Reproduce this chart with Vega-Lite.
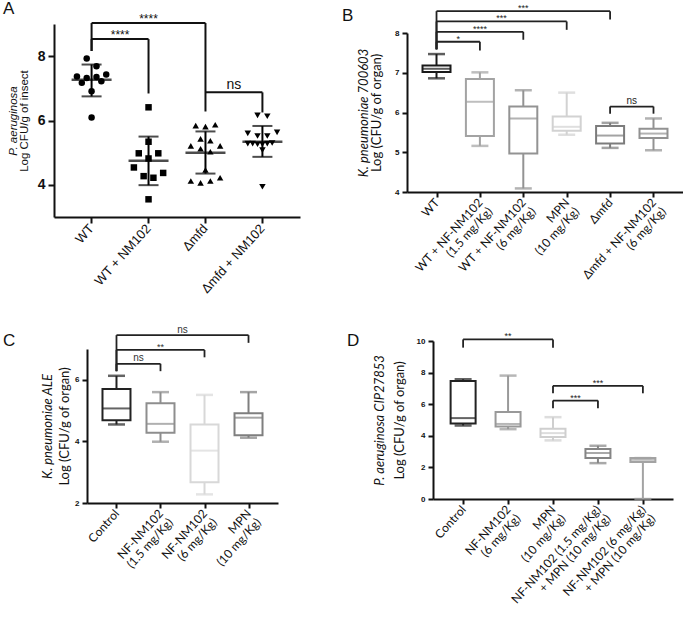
{
 "$schema": "https://vega.github.io/schema/vega-lite/v6.json",
 "background": "white",
 "padding": {"left": 3, "top": 0, "right": 0, "bottom": 0},
 "config": {
  "view": {"stroke": null},
  "axis": {"grid": false, "domainColor": "#111", "tickColor": "#111", "labelColor": "#111", "titleColor": "#111"},
  "axisY": {"labelOverlap": false, "tickCount": 20},
  "axisQuantitative": {"labelOverlap": false},
  "title": {"fontWeight": "normal", "font": "Liberation Sans", "fontSize": 17, "anchor": "start", "frame": "group", "color": "#111"}
 },
 "datasets": {
  "a_pts": [
   {"g":"WT","v":7.93,"s":-1},{"g":"WT","v":7.69,"s":1},{"g":"WT","v":7.37,"s":-3},{"g":"WT","v":7.32,"s":-1},{"g":"WT","v":7.35,"s":1},{"g":"WT","v":7.43,"s":3},{"g":"WT","v":7.17,"s":-2},{"g":"WT","v":7.22,"s":2},{"g":"WT","v":6.91,"s":0},{"g":"WT","v":6.09,"s":0},
   {"g":"WT + NM102","v":6.41,"s":0},{"g":"WT + NM102","v":5.34,"s":0},{"g":"WT + NM102","v":4.98,"s":-2},{"g":"WT + NM102","v":4.98,"s":2},{"g":"WT + NM102","v":4.82,"s":0},{"g":"WT + NM102","v":4.54,"s":-3},{"g":"WT + NM102","v":4.37,"s":3},{"g":"WT + NM102","v":4.27,"s":-1},{"g":"WT + NM102","v":4.22,"s":1},{"g":"WT + NM102","v":3.55,"s":0},
   {"g":"Δmfd","v":5.84,"s":-2},{"g":"Δmfd","v":5.81,"s":0},{"g":"Δmfd","v":5.87,"s":2},{"g":"Δmfd","v":5.43,"s":-1},{"g":"Δmfd","v":5.37,"s":1},{"g":"Δmfd","v":5.21,"s":-3},{"g":"Δmfd","v":5.21,"s":3},{"g":"Δmfd","v":5.12,"s":-1},{"g":"Δmfd","v":5.03,"s":1},{"g":"Δmfd","v":4.46,"s":0},{"g":"Δmfd","v":4.12,"s":-3},{"g":"Δmfd","v":4.06,"s":-1},{"g":"Δmfd","v":4.12,"s":1},{"g":"Δmfd","v":4.22,"s":3},
   {"g":"Δmfd + NM102","v":6.16,"s":-1},{"g":"Δmfd + NM102","v":6.13,"s":1},{"g":"Δmfd + NM102","v":5.60,"s":-3},{"g":"Δmfd + NM102","v":5.52,"s":-1},{"g":"Δmfd + NM102","v":5.52,"s":1},{"g":"Δmfd + NM102","v":5.63,"s":3},{"g":"Δmfd + NM102","v":5.28,"s":-3},{"g":"Δmfd + NM102","v":5.28,"s":-2},{"g":"Δmfd + NM102","v":5.26,"s":-1},{"g":"Δmfd + NM102","v":5.26,"s":0},{"g":"Δmfd + NM102","v":5.28,"s":1},{"g":"Δmfd + NM102","v":5.30,"s":2},{"g":"Δmfd + NM102","v":5.08,"s":0},{"g":"Δmfd + NM102","v":3.94,"s":0}
  ],
  "a_stats": [
   {"g":"WT","mean":7.27,"lo":6.75,"hi":7.74},
   {"g":"WT + NM102","mean":4.75,"lo":3.99,"hi":5.50},
   {"g":"Δmfd","mean":5.00,"lo":4.35,"hi":5.66},
   {"g":"Δmfd + NM102","mean":5.34,"lo":4.87,"hi":5.83}
  ],
  "a_br": [
   {"g1":"WT","g2":"Δmfd","y":9.03,"yl":8.16,"yr":6.28,"label":"****","mid":"WT + NM102","half":false},
   {"g1":"WT","g2":"WT + NM102","y":8.53,"yl":8.16,"yr":6.84,"label":"****","mid":"WT","half":true},
   {"g1":"Δmfd","g2":"Δmfd + NM102","y":6.875,"yl":6.875,"yr":6.25,"label":"ns","mid":"Δmfd","half":true}
  ],
  "b_box": [
   {"g":"WT","lo":6.86,"q1":7.02,"med":7.10,"q3":7.18,"hi":7.47},
   {"g":"WT + NF-NM102\n(1.5 mg/Kg)","lo":5.16,"q1":5.41,"med":6.27,"q3":6.84,"hi":7.01},
   {"g":"WT + NF-NM102\n(6 mg/Kg)","lo":4.09,"q1":4.97,"med":5.85,"q3":6.15,"hi":6.56},
   {"g":"MPN\n(10 mg/Kg)","lo":5.44,"q1":5.54,"med":5.64,"q3":5.90,"hi":6.50},
   {"g":"Δmfd","lo":5.11,"q1":5.22,"med":5.42,"q3":5.66,"hi":5.74},
   {"g":"Δmfd + NF-NM102\n(6 mg/Kg)","lo":5.05,"q1":5.36,"med":5.47,"q3":5.59,"hi":5.85}
  ],
  "b_br": [
   {"g1":"WT","g2":"WT + NF-NM102\n(1.5 mg/Kg)","y":7.78,"yl":7.59,"yr":7.56,"label":"*","mid":"WT","half":true},
   {"g1":"WT","g2":"WT + NF-NM102\n(6 mg/Kg)","y":8.03,"yl":7.59,"yr":7.83,"label":"****","mid":"WT + NF-NM102\n(1.5 mg/Kg)","half":false},
   {"g1":"WT","g2":"MPN\n(10 mg/Kg)","y":8.29,"yl":7.59,"yr":8.08,"label":"***","mid":"WT + NF-NM102\n(1.5 mg/Kg)","half":true},
   {"g1":"WT","g2":"Δmfd","y":8.55,"yl":7.59,"yr":8.34,"label":"***","mid":"WT + NF-NM102\n(6 mg/Kg)","half":false},
   {"g1":"Δmfd","g2":"Δmfd + NF-NM102\n(6 mg/Kg)","y":6.15,"yl":5.97,"yr":5.97,"label":"ns","mid":"Δmfd","half":true}
  ],
  "c_box": [
   {"g":"Control","lo":4.55,"q1":4.69,"med":5.07,"q3":5.70,"hi":6.13},
   {"g":"NF-NM102\n(1.5 mg/Kg)","lo":3.99,"q1":4.28,"med":4.57,"q3":5.24,"hi":5.60},
   {"g":"NF-NM102\n(6 mg/Kg)","lo":2.28,"q1":2.67,"med":3.70,"q3":4.55,"hi":5.51},
   {"g":"MPN\n(10 mg/Kg)","lo":4.12,"q1":4.20,"med":4.77,"q3":4.91,"hi":5.60}
  ],
  "c_br": [
   {"g1":"Control","g2":"MPN\n(10 mg/Kg)","y":7.45,"yl":6.28,"yr":7.2,"label":"ns","mid":"NF-NM102\n(1.5 mg/Kg)","half":true},
   {"g1":"Control","g2":"NF-NM102\n(6 mg/Kg)","y":6.97,"yl":6.28,"yr":6.73,"label":"**","mid":"NF-NM102\n(1.5 mg/Kg)","half":false},
   {"g1":"Control","g2":"NF-NM102\n(1.5 mg/Kg)","y":6.52,"yl":6.28,"yr":6.28,"label":"ns","mid":"Control","half":true}
  ],
  "d_box": [
   {"g":"Control","lo":4.65,"q1":4.78,"med":5.12,"q3":7.47,"hi":7.58},
   {"g":"NF-NM102\n(6 mg/Kg)","lo":4.42,"q1":4.59,"med":4.75,"q3":5.50,"hi":7.81},
   {"g":"MPN\n(10 mg/Kg)","lo":3.71,"q1":3.92,"med":4.17,"q3":4.44,"hi":5.18},
   {"g":"NF-NM102 (1.5 mg/Kg)\n+ MPN (10 mg/Kg)","lo":2.27,"q1":2.59,"med":2.91,"q3":3.16,"hi":3.37},
   {"g":"NF-NM102 (6 mg/Kg)\n+ MPN (10 mg/Kg)","lo":0,"q1":2.34,"med":2.48,"q3":2.59,"hi":2.59}
  ],
  "d_br": [
   {"g1":"Control","g2":"MPN\n(10 mg/Kg)","y":10.1,"yl":9.58,"yr":9.58,"label":"**","mid":"NF-NM102\n(6 mg/Kg)","half":false},
   {"g1":"MPN\n(10 mg/Kg)","g2":"NF-NM102 (1.5 mg/Kg)\n+ MPN (10 mg/Kg)","y":6.23,"yl":5.75,"yr":5.75,"label":"***","mid":"MPN\n(10 mg/Kg)","half":true},
   {"g1":"MPN\n(10 mg/Kg)","g2":"NF-NM102 (6 mg/Kg)\n+ MPN (10 mg/Kg)","y":7.16,"yl":6.69,"yr":6.69,"label":"***","mid":"NF-NM102 (1.5 mg/Kg)\n+ MPN (10 mg/Kg)","half":false}
  ]
 },
 "columns": 1,
 "spacing": 28,
 "resolve": {"scale": {"color": "independent", "shape": "independent"}},
 "concat": [
  {
   "columns": 2,
   "spacing": 42,
   "resolve": {"scale": {"color": "independent", "shape": "independent"}},
   "concat": [
    {
     "width": 246, "height": 193,
     "title": {"text": "A", "dx": -51, "offset": -5},
     "resolve": {"scale": {"y": "independent"}},
     "layer": [
      {"layer": [
      {"data": {"name": "a_pts"},
       "mark": {"type": "point", "filled": true, "size": 42, "opacity": 1, "color": "#000"},
       "encoding": {
        "x": {"field": "g", "type": "nominal", "title": null,
              "scale": {"type": "band", "domain": ["WT","WT + NM102","Δmfd","Δmfd + NM102"], "paddingInner": 0.4, "paddingOuter": 0.36},
              "axis": {"labelAngle": -48, "labelFont": "Liberation Sans", "labelFontSize": 13, "tickSize": 6, "tickWidth": 2, "domainWidth": 2, "labelPadding": 3}},
        "xOffset": {"field": "s", "type": "ordinal", "scale": {"domain": [-3,-2,-1,0,1,2,3]}},
        "y": {"field": "v", "type": "quantitative", "title": "Log CFU/g of insect",
              "scale": {"domain": [3, 9], "nice": false, "zero": false},
              "axis": {"values": [4,6,8], "format": "d", "tickCount": 20, "labelOverlap": false, "labelFont": "Liberation Sans", "labelFontSize": 14, "labelFontWeight": "bold", "tickSize": 6, "tickWidth": 2, "domainWidth": 2, "labelPadding": 3, "titleFont": "Liberation Sans", "titleFontSize": 11.5, "titleFontWeight": "normal", "titlePadding": 8}},
        "shape": {"field": "g", "type": "nominal", "scale": {"domain": ["WT","WT + NM102","Δmfd","Δmfd + NM102"], "range": ["circle","square","triangle-up","triangle-down"]}, "legend": null}
       }},
      {"data": {"name": "a_stats"}, "mark": {"type": "rule", "strokeWidth": 2, "color": "#000"},
       "encoding": {"x": {"field": "g", "type": "nominal"}, "y": {"field": "lo", "type": "quantitative"}, "y2": {"field": "hi"}}},
      {"data": {"name": "a_stats"}, "mark": {"type": "tick", "size": 40, "thickness": 2.5, "color": "#000"},
       "encoding": {"x": {"field": "g", "type": "nominal"}, "y": {"field": "mean", "type": "quantitative"}}},
      {"data": {"name": "a_stats"}, "mark": {"type": "tick", "size": 20, "thickness": 2, "color": "#000"},
       "encoding": {"x": {"field": "g", "type": "nominal"}, "y": {"field": "lo", "type": "quantitative"}}},
      {"data": {"name": "a_stats"}, "mark": {"type": "tick", "size": 20, "thickness": 2, "color": "#000"},
       "encoding": {"x": {"field": "g", "type": "nominal"}, "y": {"field": "hi", "type": "quantitative"}}},
      {"data": {"name": "a_br"}, "mark": {"type": "rule", "strokeWidth": 2, "color": "#111"},
       "encoding": {"x": {"field": "g1", "type": "nominal"}, "x2": {"field": "g2"}, "y": {"field": "y", "type": "quantitative"}}},
      {"data": {"name": "a_br"}, "mark": {"type": "rule", "strokeWidth": 2, "color": "#111"},
       "encoding": {"x": {"field": "g1", "type": "nominal"}, "y": {"field": "y", "type": "quantitative"}, "y2": {"field": "yl"}}},
      {"data": {"name": "a_br"}, "mark": {"type": "rule", "strokeWidth": 2, "color": "#111"},
       "encoding": {"x": {"field": "g2", "type": "nominal"}, "y": {"field": "y", "type": "quantitative"}, "y2": {"field": "yr"}}},
      {"data": {"name": "a_br"}, "transform": [{"filter": "datum.label != 'ns' && !datum.half"}],
       "mark": {"type": "text", "font": "Liberation Sans", "fontSize": 12, "baseline": "alphabetic", "color": "#111"},
       "encoding": {"x": {"field": "mid", "type": "nominal", "bandPosition": 0.5}, "y": {"field": "y", "type": "quantitative"}, "text": {"field": "label"}}},
      {"data": {"name": "a_br"}, "transform": [{"filter": "datum.label != 'ns' && datum.half"}],
       "mark": {"type": "text", "font": "Liberation Sans", "fontSize": 12, "baseline": "alphabetic", "color": "#111"},
       "encoding": {"x": {"field": "mid", "type": "nominal", "bandPosition": 1.3333}, "y": {"field": "y", "type": "quantitative"}, "text": {"field": "label"}}},
      {"data": {"name": "a_br"}, "transform": [{"filter": "datum.label == 'ns'"}],
       "mark": {"type": "text", "font": "Liberation Sans", "fontSize": 14, "baseline": "alphabetic", "dy": -3, "color": "#111"},
       "encoding": {"x": {"field": "mid", "type": "nominal", "bandPosition": 1.3333}, "y": {"field": "y", "type": "quantitative"}, "text": {"field": "label"}}}
      ]},
      {"data": {"name": "a_stats"}, "mark": {"type": "rule", "opacity": 0},
       "encoding": {"y": {"field": "mean", "type": "quantitative", "scale": {"domain": [3, 9], "nice": false, "zero": false},
        "axis": {"orient": "left", "offset": 36, "domain": false, "ticks": false, "labels": false, "title": "P. aeruginosa", "titleFont": "Liberation Sans", "titleFontSize": 11.5, "titleFontStyle": "italic", "titleFontWeight": "normal", "titlePadding": 0}}}}
     ]
    },
    {
     "width": 276, "height": 168,
     "title": {"text": "B", "dx": -65, "offset": -21},
     "resolve": {"scale": {"y": "independent"}},
     "layer": [
      {"layer": [
      {"data": {"name": "b_box"}, "mark": {"type": "rule", "strokeWidth": 2},
       "encoding": {
        "x": {"field": "g", "type": "nominal", "title": null,
              "scale": {"type": "point", "domain": ["WT","WT + NF-NM102\n(1.5 mg/Kg)","WT + NF-NM102\n(6 mg/Kg)","MPN\n(10 mg/Kg)","Δmfd","Δmfd + NF-NM102\n(6 mg/Kg)"], "padding": 0.68},
              "axis": {"labelAngle": -48, "labelFont": "Lato", "labelFontSize": 12, "labelExpr": "split(datum.label, '\\n')", "labelLineHeight": 13, "tickSize": 5, "tickWidth": 2, "domainWidth": 2, "labelPadding": 3}},
        "y": {"field": "lo", "type": "quantitative", "title": "Log (CFU/g of organ)",
              "scale": {"domain": [4, 8], "nice": false, "zero": false, "range": [168, 9]},
              "axis": {"values": [4,5,6,7,8], "format": "d", "tickCount": 20, "labelOverlap": false, "labelFont": "Liberation Sans", "labelFontSize": 8, "labelFontWeight": "bold", "tickSize": 5, "tickWidth": 2, "domainWidth": 2, "labelPadding": 3, "titleFont": "Lato", "titleFontSize": 13, "titleFontWeight": "normal", "titlePadding": 11}},
        "y2": {"field": "q1"},
        "color": {"field": "g", "type": "nominal", "legend": null, "scale": {"domain": ["WT","WT + NF-NM102\n(1.5 mg/Kg)","WT + NF-NM102\n(6 mg/Kg)","MPN\n(10 mg/Kg)","Δmfd","Δmfd + NF-NM102\n(6 mg/Kg)"], "range": ["#1a1a1a","#a3a3a3","#939393","#d2d2d2","#7c7c7c","#929292"]}}
       }},
      {"data": {"name": "b_box"}, "mark": {"type": "rule", "strokeWidth": 2},
       "encoding": {"x": {"field": "g", "type": "nominal"}, "y": {"field": "q3", "type": "quantitative"}, "y2": {"field": "hi"}, "color": {"field": "g", "type": "nominal", "legend": null}}},
      {"data": {"name": "b_box"}, "mark": {"type": "bar", "filled": false, "strokeWidth": 2, "width": 28},
       "encoding": {"x": {"field": "g", "type": "nominal"}, "y": {"field": "q1", "type": "quantitative"}, "y2": {"field": "q3"}, "color": {"field": "g", "type": "nominal", "legend": null}}},
      {"data": {"name": "b_box"}, "mark": {"type": "tick", "size": 28, "thickness": 2},
       "encoding": {"x": {"field": "g", "type": "nominal"}, "y": {"field": "med", "type": "quantitative"}, "color": {"field": "g", "type": "nominal", "legend": null}}},
      {"data": {"name": "b_box"}, "mark": {"type": "tick", "size": 17, "thickness": 2.5},
       "encoding": {"x": {"field": "g", "type": "nominal"}, "y": {"field": "lo", "type": "quantitative"}, "color": {"field": "g", "type": "nominal", "legend": null}}},
      {"data": {"name": "b_box"}, "mark": {"type": "tick", "size": 17, "thickness": 2.5},
       "encoding": {"x": {"field": "g", "type": "nominal"}, "y": {"field": "hi", "type": "quantitative"}, "color": {"field": "g", "type": "nominal", "legend": null}}},
      {"data": {"name": "b_br"}, "mark": {"type": "rule", "strokeWidth": 1.8, "color": "#222"},
       "encoding": {"x": {"field": "g1", "type": "nominal"}, "x2": {"field": "g2"}, "y": {"field": "y", "type": "quantitative"}}},
      {"data": {"name": "b_br"}, "mark": {"type": "rule", "strokeWidth": 1.8, "color": "#222"},
       "encoding": {"x": {"field": "g1", "type": "nominal"}, "y": {"field": "y", "type": "quantitative"}, "y2": {"field": "yl"}}},
      {"data": {"name": "b_br"}, "mark": {"type": "rule", "strokeWidth": 1.8, "color": "#222"},
       "encoding": {"x": {"field": "g2", "type": "nominal"}, "y": {"field": "y", "type": "quantitative"}, "y2": {"field": "yr"}}},
      {"data": {"name": "b_br"}, "transform": [{"filter": "datum.label != 'ns' && !datum.half"}],
       "mark": {"type": "text", "font": "Liberation Sans", "fontSize": 9, "baseline": "alphabetic", "color": "#222"},
       "encoding": {"x": {"field": "mid", "type": "nominal"}, "y": {"field": "y", "type": "quantitative"}, "text": {"field": "label"}}},
      {"data": {"name": "b_br"}, "transform": [{"filter": "datum.label != 'ns' && datum.half"}],
       "mark": {"type": "text", "font": "Liberation Sans", "fontSize": 9, "baseline": "alphabetic", "dx": 21.7, "color": "#222"},
       "encoding": {"x": {"field": "mid", "type": "nominal"}, "y": {"field": "y", "type": "quantitative"}, "text": {"field": "label"}}},
      {"data": {"name": "b_br"}, "transform": [{"filter": "datum.label == 'ns'"}],
       "mark": {"type": "text", "font": "Liberation Sans", "fontSize": 10, "baseline": "alphabetic", "dy": -3, "dx": 21.7, "color": "#222"},
       "encoding": {"x": {"field": "mid", "type": "nominal"}, "y": {"field": "y", "type": "quantitative"}, "text": {"field": "label"}}}
      ]},
      {"data": {"name": "b_box"}, "mark": {"type": "rule", "opacity": 0},
       "encoding": {"y": {"field": "med", "type": "quantitative", "scale": {"domain": [4, 8], "nice": false, "zero": false, "range": [168, 9]},
        "axis": {"orient": "left", "offset": 36.5, "domain": false, "ticks": false, "labels": false, "title": "K. pneumoniae 700603", "titleFont": "Lato", "titleFontSize": 13, "titleFontStyle": "italic", "titleFontWeight": "normal", "titlePadding": 0}}}}
     ]
    }
   ]
  },
  {
   "columns": 2,
   "spacing": 69,
   "resolve": {"scale": {"color": "independent"}},
   "concat": [
    {
     "width": 224, "height": 162,
     "title": {"text": "C", "dx": -51, "offset": -25},
     "resolve": {"scale": {"y": "independent"}},
     "layer": [
      {"layer": [
      {"data": {"name": "c_box"}, "mark": {"type": "rule", "strokeWidth": 2},
       "encoding": {
        "x": {"field": "g", "type": "nominal", "title": null,
              "scale": {"type": "point", "domain": ["Control","NF-NM102\n(1.5 mg/Kg)","NF-NM102\n(6 mg/Kg)","MPN\n(10 mg/Kg)"], "padding": 0.67, "range": [33, 224]},
              "axis": {"labelAngle": -48, "labelFont": "Lato", "labelFontSize": 12, "labelExpr": "split(datum.label, '\\n')", "labelLineHeight": 13, "tickSize": 5, "tickWidth": 2, "domainWidth": 2, "labelPadding": 3}},
        "y": {"field": "lo", "type": "quantitative", "title": "Log (CFU/g of organ)",
              "scale": {"domain": [2, 7], "nice": false, "zero": false, "range": [162, 8]},
              "axis": {"values": [2,4,6], "format": "d", "tickCount": 20, "offset": -33, "labelOverlap": false, "labelFont": "Liberation Sans", "labelFontSize": 8, "labelFontWeight": "bold", "tickSize": 5, "tickWidth": 2, "domainWidth": 2, "labelPadding": 3, "titleFont": "Lato", "titleFontSize": 13, "titleFontWeight": "normal", "titlePadding": 3}},
        "y2": {"field": "q1"},
        "color": {"field": "g", "type": "nominal", "legend": null, "scale": {"domain": ["Control","NF-NM102\n(1.5 mg/Kg)","NF-NM102\n(6 mg/Kg)","MPN\n(10 mg/Kg)"], "range": ["#222222","#8e8e8e","#d8d8d8","#7f7f7f"]}}
       }},
      {"data": {"name": "c_box"}, "mark": {"type": "rule", "strokeWidth": 2},
       "encoding": {"x": {"field": "g", "type": "nominal"}, "y": {"field": "q3", "type": "quantitative"}, "y2": {"field": "hi"}, "color": {"field": "g", "type": "nominal", "legend": null}}},
      {"data": {"name": "c_box"}, "mark": {"type": "bar", "filled": false, "strokeWidth": 2, "width": 28},
       "encoding": {"x": {"field": "g", "type": "nominal"}, "y": {"field": "q1", "type": "quantitative"}, "y2": {"field": "q3"}, "color": {"field": "g", "type": "nominal", "legend": null}}},
      {"data": {"name": "c_box"}, "mark": {"type": "tick", "size": 28, "thickness": 2},
       "encoding": {"x": {"field": "g", "type": "nominal"}, "y": {"field": "med", "type": "quantitative"}, "color": {"field": "g", "type": "nominal", "legend": null}}},
      {"data": {"name": "c_box"}, "mark": {"type": "tick", "size": 17, "thickness": 2.5},
       "encoding": {"x": {"field": "g", "type": "nominal"}, "y": {"field": "lo", "type": "quantitative"}, "color": {"field": "g", "type": "nominal", "legend": null}}},
      {"data": {"name": "c_box"}, "mark": {"type": "tick", "size": 17, "thickness": 2.5},
       "encoding": {"x": {"field": "g", "type": "nominal"}, "y": {"field": "hi", "type": "quantitative"}, "color": {"field": "g", "type": "nominal", "legend": null}}},
      {"data": {"name": "c_br"}, "mark": {"type": "rule", "strokeWidth": 1.8, "color": "#222"},
       "encoding": {"x": {"field": "g1", "type": "nominal"}, "x2": {"field": "g2"}, "y": {"field": "y", "type": "quantitative"}}},
      {"data": {"name": "c_br"}, "mark": {"type": "rule", "strokeWidth": 1.8, "color": "#222"},
       "encoding": {"x": {"field": "g1", "type": "nominal"}, "y": {"field": "y", "type": "quantitative"}, "y2": {"field": "yl"}}},
      {"data": {"name": "c_br"}, "mark": {"type": "rule", "strokeWidth": 1.8, "color": "#222"},
       "encoding": {"x": {"field": "g2", "type": "nominal"}, "y": {"field": "y", "type": "quantitative"}, "y2": {"field": "yr"}}},
      {"data": {"name": "c_br"}, "transform": [{"filter": "datum.label != 'ns'"}],
       "mark": {"type": "text", "font": "Liberation Sans", "fontSize": 9, "baseline": "alphabetic", "color": "#333"},
       "encoding": {"x": {"field": "mid", "type": "nominal"}, "y": {"field": "y", "type": "quantitative"}, "text": {"field": "label"}}},
      {"data": {"name": "c_br"}, "transform": [{"filter": "datum.label == 'ns'"}],
       "mark": {"type": "text", "font": "Liberation Sans", "fontSize": 10, "baseline": "alphabetic", "dy": -2.5, "dx": 22, "color": "#333"},
       "encoding": {"x": {"field": "mid", "type": "nominal"}, "y": {"field": "y", "type": "quantitative"}, "text": {"field": "label"}}}
      ]},
      {"data": {"name": "c_box"}, "mark": {"type": "rule", "opacity": 0},
       "encoding": {"y": {"field": "med", "type": "quantitative", "scale": {"domain": [2, 7], "nice": false, "zero": false, "range": [162, 8]},
        "axis": {"orient": "left", "offset": -0.5, "domain": false, "ticks": false, "labels": false, "title": "K. pneumoniae ALE", "titleFont": "Lato", "titleFontSize": 13, "titleFontStyle": "italic", "titleFontWeight": "normal", "titlePadding": 0}}}}
     ]
    },
    {
     "width": 240, "height": 158,
     "title": {"text": "D", "dx": -86, "offset": -18},
     "resolve": {"scale": {"y": "independent"}},
     "layer": [
      {"layer": [
      {"data": {"name": "d_box"}, "mark": {"type": "rule", "strokeWidth": 2},
       "encoding": {
        "x": {"field": "g", "type": "nominal", "title": null,
              "scale": {"type": "point", "domain": ["Control","NF-NM102\n(6 mg/Kg)","MPN\n(10 mg/Kg)","NF-NM102 (1.5 mg/Kg)\n+ MPN (10 mg/Kg)","NF-NM102 (6 mg/Kg)\n+ MPN (10 mg/Kg)"], "padding": 0.67},
              "axis": {"labelAngle": -48, "labelFont": "Lato", "labelFontSize": 12, "labelExpr": "split(datum.label, '\\n')", "labelLineHeight": 13, "tickSize": 5, "tickWidth": 2, "domainWidth": 2, "labelPadding": 3}},
        "y": {"field": "lo", "type": "quantitative", "title": "Log (CFU/g of organ)",
              "scale": {"domain": [0, 10], "nice": false, "zero": false},
              "axis": {"values": [0,2,4,6,8,10], "format": "d", "tickCount": 20, "labelOverlap": false, "labelFont": "Liberation Sans", "labelFontSize": 8, "labelFontWeight": "bold", "tickSize": 5, "tickWidth": 2, "domainWidth": 2, "labelPadding": 3, "titleFont": "Lato", "titleFontSize": 13, "titleFontWeight": "normal", "titlePadding": 10}},
        "y2": {"field": "q1"},
        "color": {"field": "g", "type": "nominal", "legend": null, "scale": {"domain": ["Control","NF-NM102\n(6 mg/Kg)","MPN\n(10 mg/Kg)","NF-NM102 (1.5 mg/Kg)\n+ MPN (10 mg/Kg)","NF-NM102 (6 mg/Kg)\n+ MPN (10 mg/Kg)"], "range": ["#222222","#999999","#cfcfcf","#858585","#a3a3a3"]}}
       }},
      {"data": {"name": "d_box"}, "mark": {"type": "rule", "strokeWidth": 2},
       "encoding": {"x": {"field": "g", "type": "nominal"}, "y": {"field": "q3", "type": "quantitative"}, "y2": {"field": "hi"}, "color": {"field": "g", "type": "nominal", "legend": null}}},
      {"data": {"name": "d_box"}, "mark": {"type": "bar", "filled": false, "strokeWidth": 2, "width": 25},
       "encoding": {"x": {"field": "g", "type": "nominal"}, "y": {"field": "q1", "type": "quantitative"}, "y2": {"field": "q3"}, "color": {"field": "g", "type": "nominal", "legend": null}}},
      {"data": {"name": "d_box"}, "mark": {"type": "tick", "size": 25, "thickness": 2},
       "encoding": {"x": {"field": "g", "type": "nominal"}, "y": {"field": "med", "type": "quantitative"}, "color": {"field": "g", "type": "nominal", "legend": null}}},
      {"data": {"name": "d_box"}, "mark": {"type": "tick", "size": 17, "thickness": 2.5},
       "encoding": {"x": {"field": "g", "type": "nominal"}, "y": {"field": "lo", "type": "quantitative"}, "color": {"field": "g", "type": "nominal", "legend": null}}},
      {"data": {"name": "d_box"}, "mark": {"type": "tick", "size": 17, "thickness": 2.5},
       "encoding": {"x": {"field": "g", "type": "nominal"}, "y": {"field": "hi", "type": "quantitative"}, "color": {"field": "g", "type": "nominal", "legend": null}}},
      {"data": {"name": "d_br"}, "mark": {"type": "rule", "strokeWidth": 1.8, "color": "#222"},
       "encoding": {"x": {"field": "g1", "type": "nominal"}, "x2": {"field": "g2"}, "y": {"field": "y", "type": "quantitative"}}},
      {"data": {"name": "d_br"}, "mark": {"type": "rule", "strokeWidth": 1.8, "color": "#222"},
       "encoding": {"x": {"field": "g1", "type": "nominal"}, "y": {"field": "y", "type": "quantitative"}, "y2": {"field": "yl"}}},
      {"data": {"name": "d_br"}, "mark": {"type": "rule", "strokeWidth": 1.8, "color": "#222"},
       "encoding": {"x": {"field": "g2", "type": "nominal"}, "y": {"field": "y", "type": "quantitative"}, "y2": {"field": "yr"}}},
      {"data": {"name": "d_br"}, "transform": [{"filter": "!datum.half"}],
       "mark": {"type": "text", "font": "Liberation Sans", "fontSize": 9, "baseline": "alphabetic", "color": "#222"},
       "encoding": {"x": {"field": "mid", "type": "nominal"}, "y": {"field": "y", "type": "quantitative"}, "text": {"field": "label"}}},
      {"data": {"name": "d_br"}, "transform": [{"filter": "datum.half"}],
       "mark": {"type": "text", "font": "Liberation Sans", "fontSize": 9, "baseline": "alphabetic", "dx": 22.4, "color": "#222"},
       "encoding": {"x": {"field": "mid", "type": "nominal"}, "y": {"field": "y", "type": "quantitative"}, "text": {"field": "label"}}}
      ]},
      {"data": {"name": "d_box"}, "mark": {"type": "rule", "opacity": 0},
       "encoding": {"y": {"field": "med", "type": "quantitative", "scale": {"domain": [0, 10], "nice": false, "zero": false},
        "axis": {"orient": "left", "offset": 46.5, "domain": false, "ticks": false, "labels": false, "title": "P. aeruginosa CIP27853", "titleFont": "Lato", "titleFontSize": 13, "titleFontStyle": "italic", "titleFontWeight": "normal", "titlePadding": 0}}}}
     ]
    }
   ]
  }
 ]
}
